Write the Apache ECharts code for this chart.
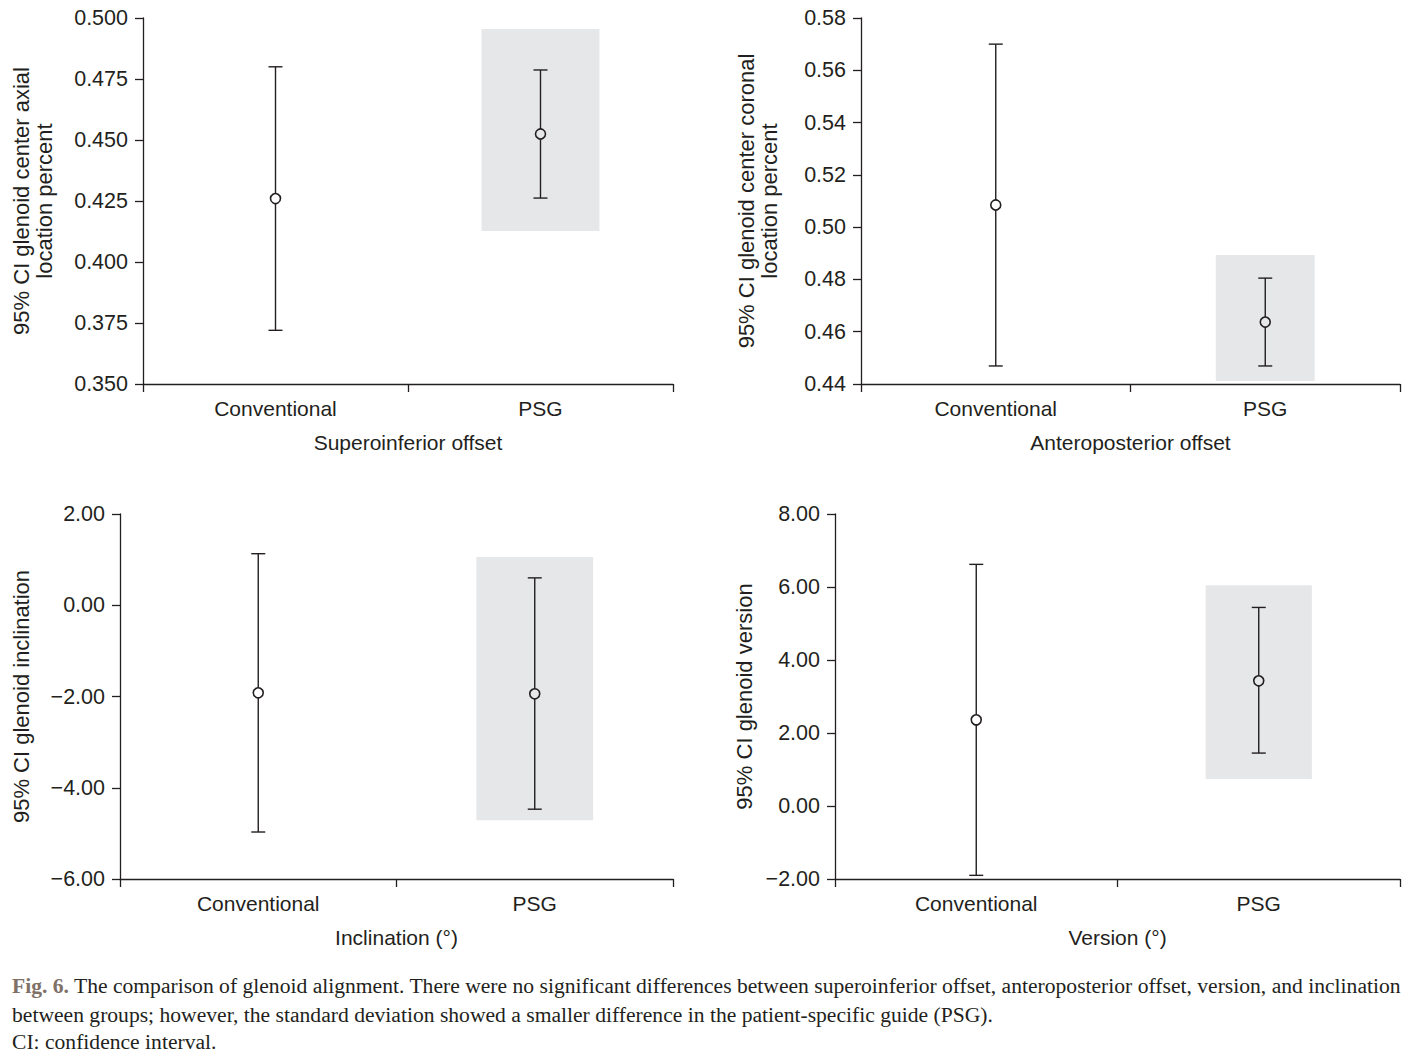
<!DOCTYPE html>
<html>
<head>
<meta charset="utf-8">
<style>
  html, body { margin: 0; padding: 0; background: #fff; }
  #chart { width: 1422px; height: 1059px; }
</style>
<script src="https://cdn.jsdelivr.net/npm/echarts@6/dist/echarts.min.js"></script>
</head>
<body>
<div id="chart"></div>
<script>
// ---------- data ----------
const categories = ['Conventional', 'PSG'];

// Superoinferior offset
const siMean = [0.426, 0.4525];
const siLow  = [0.372, 0.4262];
const siHigh = [0.480, 0.4787];
const siShade = [0.4955, 0.4127]; // PSG highlight [top, bottom]
const siTicks = [0.350, 0.375, 0.400, 0.425, 0.450, 0.475, 0.500];

// Anteroposterior offset
const apMean = [0.5085, 0.4637];
const apLow  = [0.4469, 0.4469];
const apHigh = [0.570, 0.4805];
const apShade = [0.4893, 0.4411];
const apTicks = [0.44, 0.46, 0.48, 0.50, 0.52, 0.54, 0.56, 0.58];

// Inclination
const incMean = [-1.92, -1.94];
const incLow  = [-4.97, -4.47];
const incHigh = [1.13, 0.60];
const incShade = [1.06, -4.71];
const incTicks = [-6, -4, -2, 0, 2];

// Version
const verMean = [2.36, 3.43];
const verLow  = [-1.9, 1.45];
const verHigh = [6.62, 5.44];
const verShade = [6.05, 0.74];
const verTicks = [-2, 0, 2, 4, 6, 8];

// ---------- layout / style ----------
const INK = '#231f20';
const SHADE = '#e6e7e9';
const FONT = '"Liberation Sans", Arial, Helvetica, sans-serif';

const panels = [
  { grid: { left: 143, top: 18, right: 749, bottom: 675 },
    mean: siMean, low: siLow, high: siHigh, shade: siShade, ticks: siTicks, dec: 3,
    xName: 'Superoinferior offset',
    yName: '95% CI glenoid center axial\nlocation percent', yGap: 87, shadeFrac: 0.445 },
  { grid: { left: 861, top: 18, right: 22, bottom: 675 },
    mean: apMean, low: apLow, high: apHigh, shade: apShade, ticks: apTicks, dec: 2,
    xName: 'Anteroposterior offset',
    yName: '95% CI glenoid center coronal\nlocation percent', yGap: 80, shadeFrac: 0.367 },
  { grid: { left: 120, top: 514, right: 749, bottom: 180 },
    mean: incMean, low: incLow, high: incHigh, shade: incShade, ticks: incTicks, dec: 2,
    xName: 'Inclination (\u00b0)',
    yName: '95% CI glenoid inclination', yGap: 87, shadeFrac: 0.422 },
  { grid: { left: 835, top: 514, right: 22, bottom: 180 },
    mean: verMean, low: verLow, high: verHigh, shade: verShade, ticks: verTicks, dec: 2,
    xName: 'Version (\u00b0)',
    yName: '95% CI glenoid version', yGap: 79, shadeFrac: 0.376 }
];

function fmt(v, dec) {
  const s = Math.abs(v).toFixed(dec);
  return (v < -1e-9 ? '\u2212' : '') + s;
}

const grids = [], xAxes = [], yAxes = [], series = [];

panels.forEach((p, i) => {
  grids.push(Object.assign({}, p.grid));
  xAxes.push({
    type: 'category', gridIndex: i, data: categories, boundaryGap: true,
    name: p.xName, nameLocation: 'middle', nameGap: 48,
    nameTextStyle: { fontFamily: FONT, fontSize: 21, color: INK },
    axisLine: { onZero: false, lineStyle: { color: INK, width: 1.3 } },
    axisTick: { show: true, length: 8, alignWithLabel: false, lineStyle: { color: INK, width: 1.3 } },
    axisLabel: { fontFamily: FONT, fontSize: 21, color: INK, margin: 14 },
    splitLine: { show: false }
  });
  const tmin = p.ticks[0], tmax = p.ticks[p.ticks.length - 1];
  const step = p.ticks[1] - p.ticks[0];
  yAxes.push({
    type: 'value', gridIndex: i, min: tmin, max: tmax, interval: step,
    name: p.yName, nameLocation: 'middle', nameGap: p.yGap, nameRotate: 90,
    nameTextStyle: { fontFamily: FONT, fontSize: 22, color: INK, lineHeight: 23, align: 'center' },
    axisLine: { show: true, onZero: false, lineStyle: { color: INK, width: 1.3 } },
    axisTick: { show: true, length: 8, lineStyle: { color: INK, width: 1.3 } },
    axisLabel: { fontFamily: FONT, fontSize: 21.5, color: INK, margin: 15,
                 formatter: v => fmt(v, p.dec) },
    splitLine: { show: false }
  });

  // PSG highlight box
  series.push({
    type: 'custom', xAxisIndex: i, yAxisIndex: i, z: 1, silent: true,
    data: [[1, p.shade[0], p.shade[1]]],
    renderItem: (params, api) => {
      const top = api.coord([api.value(0), api.value(1)]);
      const bot = api.coord([api.value(0), api.value(2)]);
      const bw = api.size([1, 0])[0] * p.shadeFrac;
      return { type: 'rect',
        shape: { x: top[0] - bw / 2, y: top[1], width: bw, height: bot[1] - top[1] },
        style: { fill: SHADE } };
    }
  });

  // error bars with mean markers
  series.push({
    type: 'custom', xAxisIndex: i, yAxisIndex: i, z: 5, silent: true,
    data: categories.map((c, k) => [k, p.mean[k], p.low[k], p.high[k]]),
    renderItem: (params, api) => {
      const m = api.coord([api.value(0), api.value(1)]);
      const lo = api.coord([api.value(0), api.value(2)]);
      const hi = api.coord([api.value(0), api.value(3)]);
      const r = 5, cap = 7;
      const ls = { stroke: INK, lineWidth: 1.4, fill: null };
      return { type: 'group', children: [
        { type: 'line', shape: { x1: hi[0], y1: hi[1], x2: m[0], y2: m[1] - r }, style: ls },
        { type: 'line', shape: { x1: m[0], y1: m[1] + r, x2: lo[0], y2: lo[1] }, style: ls },
        { type: 'line', shape: { x1: hi[0] - cap, y1: hi[1], x2: hi[0] + cap, y2: hi[1] }, style: ls },
        { type: 'line', shape: { x1: lo[0] - cap, y1: lo[1], x2: lo[0] + cap, y2: lo[1] }, style: ls },
        { type: 'circle', shape: { cx: m[0], cy: m[1], r: r }, style: { stroke: INK, lineWidth: 1.6, fill: 'none' } }
      ]};
    }
  });
});

const captionFont = '"Liberation Serif", "DejaVu Serif", serif';
const captionSize = 21.6;
const captionLine1 = ' The comparison of glenoid alignment. There were no significant differences between superoinferior offset, anteroposterior offset, version, and inclination';
const captionLine2 = 'between groups; however, the standard deviation showed a smaller difference in the patient-specific guide (PSG).';
const captionLine3 = 'CI: confidence interval.';

const chart = echarts.init(document.getElementById('chart'), null, { renderer: 'svg' });
chart.setOption({
  backgroundColor: '#ffffff',
  animation: false,
  grid: grids,
  xAxis: xAxes,
  yAxis: yAxes,
  series: series,
  graphic: [
    { type: 'text', left: 12, top: 975,
      style: { text: '{b|Fig. 6.}' + captionLine1,
        font: captionSize + 'px ' + captionFont, fill: INK,
        rich: { b: { fontFamily: captionFont, fontSize: captionSize, fontWeight: 'bold', fill: '#7f7168', color: '#7f7168' } } } },
    { type: 'text', left: 12, top: 1004,
      style: { text: captionLine2, font: captionSize + 'px ' + captionFont, fill: INK } },
    { type: 'text', left: 12, top: 1031,
      style: { text: captionLine3, font: captionSize + 'px ' + captionFont, fill: INK } }
  ]
});
</script>
</body>
</html>
